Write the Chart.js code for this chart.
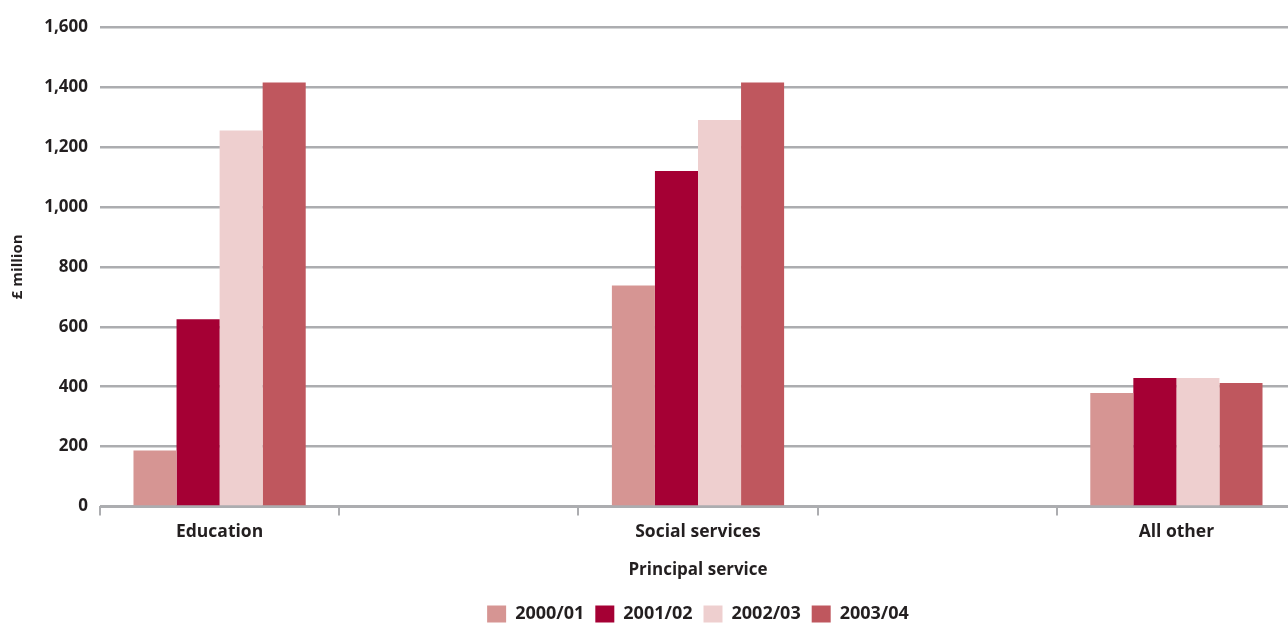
<!DOCTYPE html>
<html>
<head>
<meta charset="utf-8">
<script src="https://cdn.jsdelivr.net/npm/chart.js@4"></script>
<style>
  html, body { margin:0; padding:0; background:#fff; overflow:hidden; }
  #wrap { position:relative; width:1296px; height:633px; }
</style>
</head>
<body>
<div id="wrap"><canvas id="chart"></canvas></div>
<script>
  /* data */
  const services = ['Education', 'Social services', 'All other'];
  const years = ['2000/01', '2001/02', '2002/03', '2003/04'];
  const v2000 = [187, 738, 379];
  const v2001 = [625, 1120, 429];
  const v2002 = [1255, 1290, 429];
  const v2003 = [1415, 1415, 412];
  const yTicks = [0, 200, 400, 600, 800, 1000, 1200, 1400, 1600];

  const colors = ['#d69593', '#a50034', '#eecfcf', '#bf575e'];
  const ink = '#231f20';
  const grey = '#acadb0';
  const font = '"Open Sans", "Noto Sans", sans-serif';

  // services sit on every other slot, blank slots between
  const labels = [];
  services.forEach((s, i) => { if (i) labels.push(''); labels.push(s); });
  const spread = arr => { const out = []; arr.forEach((v, i) => { if (i) out.push(null); out.push(v); }); return out; };

  const series = [v2000, v2001, v2002, v2003];
  const datasets = years.map((y, i) => ({
    label: y, data: spread(series[i]), backgroundColor: colors[i],
    borderWidth: 0, barPercentage: 1, categoryPercentage: 0.72
  }));

  new Chart(document.getElementById('chart'), {
    type: 'bar',
    data: { labels, datasets },
    options: {
      responsive: true, maintainAspectRatio: false, animation: false,
      layout: { padding: { top: 27, right: 0, bottom: 0, left: 0 } },
      plugins: {
        tooltip: { enabled: false },
        legend: {
          position: 'bottom', fullSize: false,
          labels: { color: ink, font: { family: font, size: 18, weight: 'bold' }, boxWidth: 19, boxHeight: 17, padding: 11 }
        }
      },
      scales: {
        x: {
          grid: { offset: true, drawOnChartArea: false, drawTicks: true, tickLength: 9, color: grey, lineWidth: 2 },
          border: { display: true, color: grey, width: 2 },
          ticks: { color: ink, autoSkip: false, maxRotation: 0, padding: 6, font: { family: font, size: 17.5, weight: 'bold' } },
          title: { display: true, text: 'Principal service', color: ink, padding: { top: 11, bottom: 14 }, font: { family: font, size: 17, weight: 'bold' } }
        },
        y: {
          min: 0, max: 1600,
          afterFit: s => { s.width = 100; },
          afterBuildTicks: s => { s.ticks = yTicks.map(v => ({ value: v })); },
          grid: { drawTicks: false, color: grey, lineWidth: 2.5 },
          border: { display: false },
          ticks: { color: ink, padding: 12, font: { family: font, size: 17, weight: 'bold' },
                   callback: v => v.toLocaleString('en-US') },
          title: { display: true, text: '£ million', color: ink, padding: { top: 9, bottom: 0 }, font: { family: font, size: 15, weight: 'bold' } }
        }
      }
    }
  });
</script>
</body>
</html>
